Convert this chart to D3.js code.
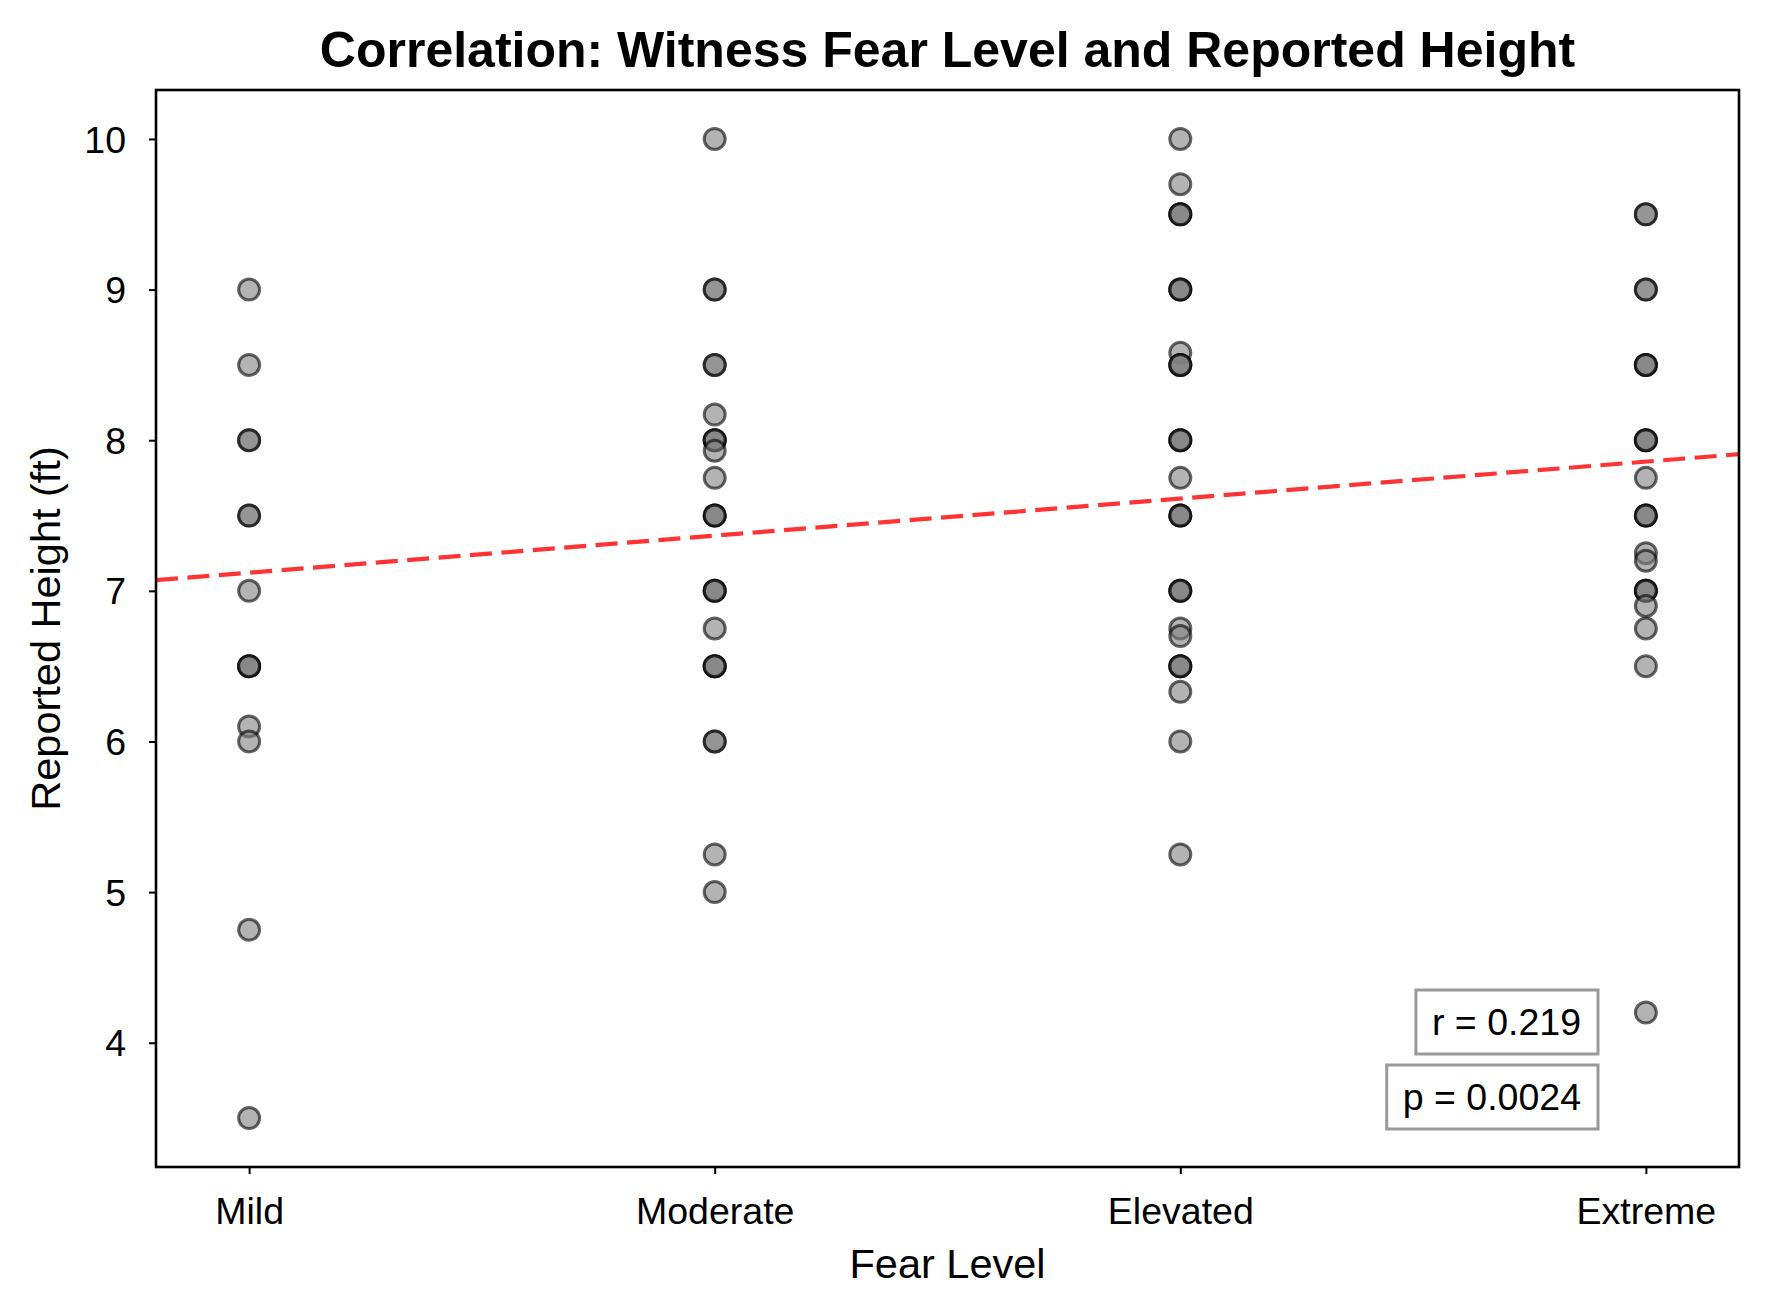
<!DOCTYPE html>
<html>
<head>
<meta charset="utf-8">
<script src="https://cdn.jsdelivr.net/npm/d3@7"></script>
<style>
  html, body { margin: 0; padding: 0; background: #fff; }
  svg { display: block; font-family: "Liberation Sans", Arial, sans-serif; }
</style>
</head>
<body>
<svg id="chart" width="1766" height="1314"></svg>
<script>
// ---- data ----
const categories = ["Mild", "Moderate", "Elevated", "Extreme"];
const mildHeights = [9, 8.5, 8, 8, 7.5, 7.5, 7, 6.5, 6.5, 6.5, 6.1, 6, 4.75, 3.5];
const moderateHeights = [10, 9, 9, 8.5, 8.5, 8.17, 8, 8, 8, 7.93, 7.75, 7.5, 7.5, 7.5, 7, 7, 7, 6.75, 6.5, 6.5, 6.5, 6, 6, 5.25, 5];
const elevatedHeights = [10, 9.7, 9.5, 9.5, 9.5, 9, 9, 9, 8.58, 8.5, 8.5, 8.5, 8, 8, 8, 7.75, 7.5, 7.5, 7.5, 7, 7, 7, 6.75, 6.7, 6.5, 6.5, 6.5, 6.33, 6, 5.25];
const extremeHeights = [9.5, 9.5, 9, 9, 8.5, 8.5, 8.5, 8, 8, 8, 7.75, 7.5, 7.5, 7.5, 7.25, 7.2, 7, 7, 7, 6.9, 6.75, 6.5, 4.2];
const yTicks = [4, 5, 6, 7, 8, 9, 10];
const trendIntercept = 7.12;
const trendSlope = 0.246;
const statLabels = ["r = 0.219", "p = 0.0024"];

const seriesByCategory = [mildHeights, moderateHeights, elevatedHeights, extremeHeights];
const points = [];
seriesByCategory.forEach((arr, i) => arr.forEach(v => points.push({ x: i, y: v })));

// ---- layout ----
const svg = d3.select("#chart");
const L = 156, R = 1739, T = 90, B = 1167;
const xDomain = [-0.2, 3.2];
const x = d3.scaleLinear().domain(xDomain).range([L, R]);
const y = d3.scaleLinear().domain([3.175, 10.325]).range([B, T]);

// title
svg.append("text")
  .attr("x", (L + R) / 2).attr("y", 67)
  .attr("text-anchor", "middle")
  .attr("font-size", 50).attr("font-weight", "bold")
  .text("Correlation: Witness Fear Level and Reported Height");

// clip
svg.append("defs").append("clipPath").attr("id", "clip")
  .append("rect").attr("x", L).attr("y", T).attr("width", R - L).attr("height", B - T);

const plot = svg.append("g").attr("clip-path", "url(#clip)");

// points
plot.selectAll("circle.pt").data(points).join("circle")
  .attr("class", "pt")
  .attr("cx", d => x(d.x)).attr("cy", d => y(d.y))
  .attr("r", 10.5)
  .attr("fill", "#808080").attr("fill-opacity", 0.6)
  .attr("stroke", "#000").attr("stroke-opacity", 0.6)
  .attr("stroke-width", 3);

// trend line
const trendData = xDomain.map(v => ({ x: v, y: trendIntercept + trendSlope * v }));
plot.append("path")
  .datum(trendData)
  .attr("d", d3.line().x(d => x(d.x)).y(d => y(d.y)))
  .attr("fill", "none")
  .attr("stroke", "#ff0000").attr("stroke-opacity", 0.8)
  .attr("stroke-width", 4.2)
  .attr("stroke-dasharray", "22,9.5");

// axes
const xAxis = d3.axisBottom(x).tickValues(d3.range(categories.length))
  .tickFormat(i => categories[i]).tickSize(7).tickPadding(23);
const yAxis = d3.axisLeft(y).tickValues(yTicks).tickFormat(d3.format("d"))
  .tickSize(7).tickPadding(23);

const gx = svg.append("g").attr("transform", `translate(0,${B})`).call(xAxis);
const gy = svg.append("g").attr("transform", `translate(${L},0)`).call(yAxis);
[gx, gy].forEach(g => {
  g.select(".domain").remove();
  g.selectAll(".tick line").attr("stroke", "#000").attr("stroke-width", 2);
  g.selectAll(".tick text").attr("font-size", 37.5).attr("fill", "#000")
    .attr("font-family", "Liberation Sans, Arial, sans-serif");
});
gy.selectAll(".tick text").attr("dy", "0.35em");
gx.selectAll(".tick text").attr("dy", "0.71em");

// frame
svg.append("rect").attr("x", L).attr("y", T).attr("width", R - L).attr("height", B - T)
  .attr("fill", "none").attr("stroke", "#000").attr("stroke-width", 2.6);

// axis labels
svg.append("text").attr("x", (L + R) / 2).attr("y", 1278)
  .attr("text-anchor", "middle").attr("font-size", 41.5).text("Fear Level");
svg.append("text")
  .attr("transform", `translate(60,${(T + B) / 2}) rotate(-90)`)
  .attr("text-anchor", "middle").attr("font-size", 41.5).text("Reported Height (ft)");

// stat boxes
const boxRight = 1598;
const boxYs = [1022, 1097];
statLabels.forEach((s, i) => {
  const g = svg.append("g");
  const t = g.append("text").attr("x", boxRight - 17).attr("y", boxYs[i])
    .attr("text-anchor", "end").attr("dominant-baseline", "central")
    .attr("font-size", 37.5).text(s);
  const bb = t.node().getBBox();
  g.insert("rect", "text")
    .attr("x", bb.x - 16).attr("y", boxYs[i] - 32)
    .attr("width", boxRight - (bb.x - 16)).attr("height", 64)
    .attr("fill", "#fff").attr("stroke", "#999").attr("stroke-width", 3);
});
</script>
</body>
</html>
